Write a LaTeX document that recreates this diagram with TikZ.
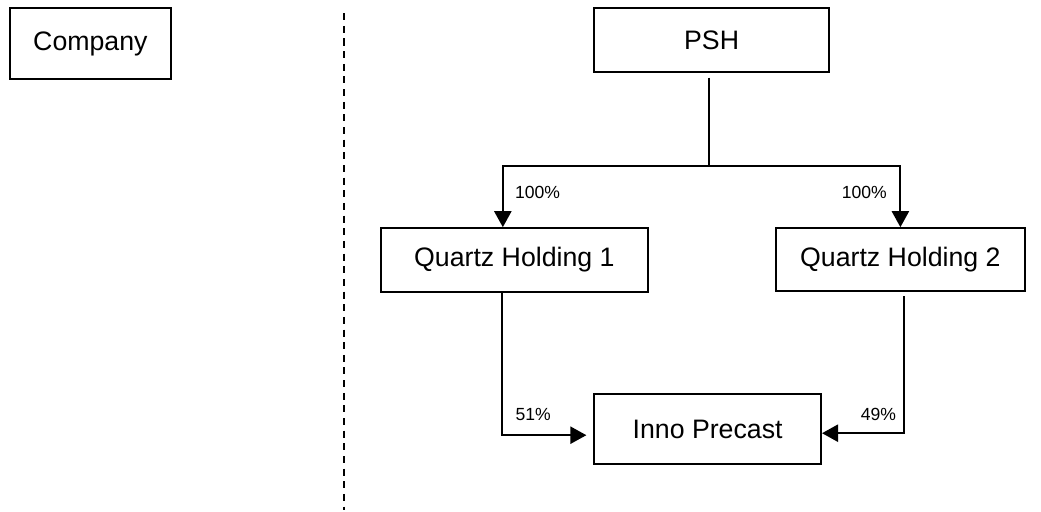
\documentclass[tikz,border=0pt]{standalone}
\usepackage{fontspec}
\setmainfont{Liberation Sans}
\usepackage{tikz}
\usetikzlibrary{%
  arrows.meta,%
  calc,%
  positioning%
}
\tikzset{>={Triangle[length=4mm,width=4.3mm]}}
\tikzset{
  entity/.style={draw,line width=1.2pt,inner sep=0pt,
    font=\fontsize{19}{22}\selectfont},
  share/.style={inner sep=0pt,font=\fontsize{12.5}{15}\selectfont},
  link/.style={line width=1.3pt}
}

\begin{document}
\begin{tikzpicture}
    \useasboundingbox (0,0) rectangle (26.025,-12.8);
    % legend and divider
    \node[entity,minimum width=4.03cm,minimum height=1.78cm] (company) at (2.26,-1.09) {Company};
    \draw[line width=0.8pt,dash pattern=on 5pt off 4pt] (8.6,-0.33) -- (8.6,-12.75);
    % companies
    \node[entity,minimum width=5.88cm,minimum height=1.6cm] (psh) at (17.79,-1.0) {PSH};
    \node[entity,minimum width=6.68cm,minimum height=1.6cm] (qh1) at (12.86,-6.5) {Quartz Holding 1};
    \node[entity,minimum width=6.23cm,minimum height=1.58cm] (qh2) at (22.51,-6.49) {Quartz Holding 2};
    \node[entity,minimum width=5.68cm,minimum height=1.75cm] (inno) at (17.69,-10.73) {Inno Precast};
    % ownership
    \coordinate (fork) at ($(psh.south)+(-0.06,-2.33)$);
    \draw[link,shorten <=0.12cm] ($(psh.south)+(-0.06,0)$) -- (fork);
    \draw[link,->] (fork) -| ($(qh1.north west)!0.457!(qh1.north east)$);
    \draw[link,->] (fork) -| (qh2.north);
    \draw[link,->,shorten >=0.17cm] ($(qh1.south west)!0.453!(qh1.south east)$) |- ([yshift=-0.15cm]inno.west);
    \draw[link,->,shorten <=0.1cm] ($(qh2.south west)!0.514!(qh2.south east)$) |- ([yshift=-0.1cm]inno.east);
    \node[share] (p1) at (13.44,-4.8) {100\%};
    \node[share] (p2) at (21.61,-4.8) {100\%};
    \node[share] (p3) at (13.33,-10.35) {51\%};
    \node[share] (p4) at (21.96,-10.35) {49\%};
\end{tikzpicture}
\end{document}
